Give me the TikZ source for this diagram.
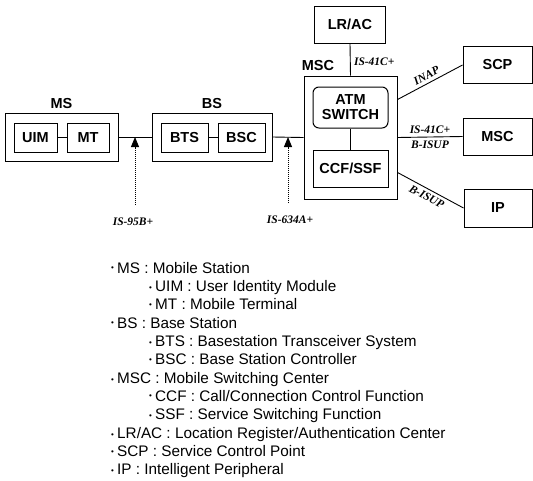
\documentclass[tikz,border=0pt]{standalone}
\usepackage{fontspec}
\setmainfont{Liberation Sans}
\newfontfamily\ifaceserif{Liberation Serif}
\usetikzlibrary{arrows.meta}
\newcommand{\blockfont}{\fontsize{14.5}{16}\selectfont\bfseries}
\newcommand{\ifacefont}{\fontsize{11.5}{13}\selectfont\ifaceserif\bfseries\itshape}
\tikzset{
  unit/.style={draw, line width=1pt, inner sep=0pt, font=\blockfont},
  grp/.style={draw, line width=0.9pt, inner sep=0pt},
  lbl/.style={font=\blockfont, inner sep=0pt},
  iface/.style={font=\ifacefont},
  probe/.style={densely dotted, line width=1pt, -{Triangle[width=8pt,length=10pt]}},
  legend/.style={font=\fontsize{15.3}{18}\selectfont, inner sep=0pt}
}

\begin{document}
\begin{tikzpicture}[x=1pt, y=-1pt, label distance=4pt]
    \useasboundingbox (0,0) rectangle (533,480);

    \node[grp, minimum width=113pt, minimum height=48pt, label={[lbl]above:MS}] (ms) at (61.5,137) {};
    \node[unit, minimum width=43pt, minimum height=29pt] (uim) at (35.5,137.5) {UIM};
    \node[unit, minimum width=42pt, minimum height=29pt] (mt) at (88,137.5) {MT};

    \node[grp, minimum width=120pt, minimum height=48pt, label={[lbl]above:BS}] (bs) at (212,137) {};
    \node[unit, minimum width=47pt, minimum height=29pt] (bts) at (184.5,137.5) {BTS};
    \node[unit, minimum width=47pt, minimum height=29pt] (bsc) at (241.5,137.5) {BSC};

    \node[grp, minimum width=93pt, minimum height=123pt] (msc) at (350.5,137.5) {};
    \node[lbl, anchor=south west] (msclbl) at ([xshift=-2pt, yshift=5pt]msc.north west) {MSC};
    \node[unit, rounded corners=6pt, minimum width=75pt, minimum height=41pt, align=center] (atm) at (350.5,107.5) {ATM\\[-1pt]SWITCH};
    \node[unit, minimum width=75pt, minimum height=37pt] (ccf) at (350.5,168.5) {CCF/SSF};

    \node[unit, minimum width=71pt, minimum height=37pt] (lrac) at (350,24.5) {LR/AC};
    \node[unit, minimum width=69pt, minimum height=37pt] (scp) at (497.5,65) {SCP};
    \node[unit, minimum width=69pt, minimum height=37pt] (msc2) at (497.5,136.5) {MSC};
    \node[unit, minimum width=68pt, minimum height=38pt] (ip) at (498,208) {IP};

    \draw[line width=0.9pt] (uim) -- (mt);
    \draw[line width=0.9pt] (bts) -- (bsc);
    \draw[line width=0.9pt] (ms.east) -- (bs.west);
    \draw[line width=0.9pt] (bs.east) -- (msc.west);
    \draw[line width=0.9pt] (atm) -- (ccf);
    \draw[line width=0.9pt] (lrac.south) -- (msc.north) node[iface, midway, right, yshift=-2pt] {IS-41C+};
    \draw[line width=0.9pt] ([yshift=-24pt]msc.north east) -- (scp.west) node[iface, midway, above, sloped] {INAP};
    \draw[line width=0.9pt] (msc.east) -- (msc2.west)
        node[iface, midway, above] {IS-41C+}
        node[iface, midway, below] {B-ISUP};
    \draw[line width=0.9pt] ([yshift=27pt]msc.south east) -- (ip.west) node[iface, midway, below, sloped] {B-ISUP};

    \coordinate (p1) at (135,205);
    \coordinate (p2) at (288,203);
    \draw[probe] (p1) -- (p1 |- ms.east);
    \draw[probe] (p2) -- (p2 |- bs.east);
    \node[iface] (is95) at (133,222) {IS-95B+};
    \node[iface] (is634) at (290,220) {IS-634A+};

    \foreach \x/\t [count=\i] in {117/{MS : Mobile Station}, 155/{UIM : User Identity Module},
        155/{MT : Mobile Terminal}, 117/{BS : Base Station}, 155/{BTS : Basestation Transceiver System},
        155/{BSC : Base Station Controller}, 117/{MSC : Mobile Switching Center},
        155/{CCF : Call/Connection Control Function}, 155/{SSF : Service Switching Function},
        117/{LR/AC : Location Register/Authentication Center}, 117/{SCP : Service Control Point},
        117/{IP : Intelligent Peripheral}} {
      \node[legend, anchor=base west] (leg\i) at (\x, {273+18.36*(\i-1)}) {\t};
      \node[font=\footnotesize, anchor=east, inner sep=0pt] (dot\i) at ([xshift=-3pt, yshift=-1pt]leg\i.west) {\textbullet};
    }
\end{tikzpicture}
\end{document}
